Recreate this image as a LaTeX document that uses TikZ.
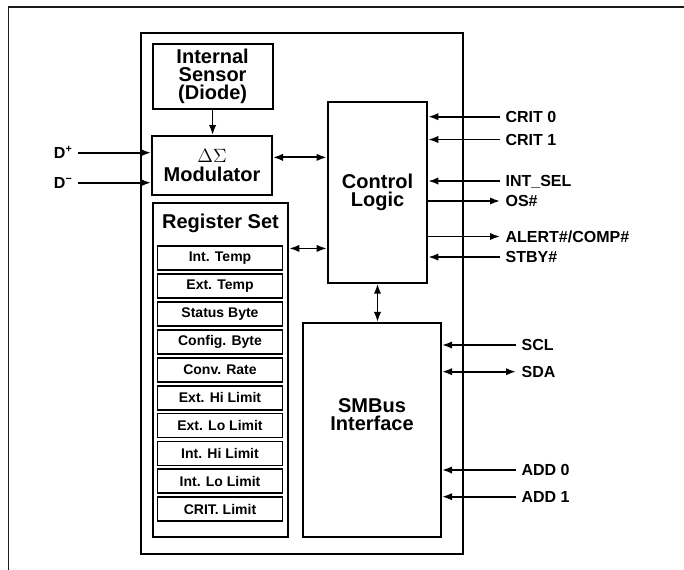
\documentclass[tikz,border=0pt]{standalone}
\usepackage{fontspec}
\setmainfont{Liberation Sans}
\usepackage{xcolor}
\definecolor{linecolor}{HTML}{000000}
\definecolor{framecolor}{HTML}{1a1a1a}
\usetikzlibrary{positioning,arrows.meta,matrix}
\tikzset{
    block/.style={
        rectangle,
        draw=linecolor,
        line width=1.5pt,
        align=center,
        inner sep=0pt,
        font=\fontsize{15}{13.5}\selectfont\bfseries,
    },
    regbox/.style={
        rectangle,
        draw=linecolor,
        line width=1.3pt,
        minimum width=93.75pt,
        minimum height=18pt,
        inner sep=0pt,
        outer sep=0pt,
        font=\fontsize{10.5}{10.5}\selectfont\bfseries,
    },
    pinlabel/.style={
        font=\fontsize{12}{12}\selectfont\bfseries,
        text height=8.6pt,
        text depth=0pt,
        inner sep=4pt,
    },
    wire/.style={
        line width=1.3pt,
        linecolor,
    },
    inwire/.style={
        wire,
        -{Latex[length=7.5pt,width=5.5pt]},
    },
    outwire/.style={
        wire,
        -{Latex[length=7.5pt,width=5.5pt]},
    },
    biwire/.style={
        wire,
        {Latex[length=7.5pt,width=5.5pt]}-{Latex[length=7.5pt,width=5.5pt]},
    },
}

\begin{document}
\begin{tikzpicture}[x=0.75pt,y=-0.75pt]
    \clip (0,0) rectangle (684,569);
    \draw[line width=0.9pt, framecolor] (8.5,7) rectangle (720,600);

    % chip and its blocks
    \node[block, minimum width=242pt, minimum height=390.75pt] (chip) at (302,293.5) {};
    \node[block, minimum width=90pt, minimum height=48.75pt] (sensor) at (212.6,76.7) {Internal\\Sensor\\(Diode)};
    \node[block, minimum width=90pt, minimum height=44.6pt] (mod) at (212,165.75) {$\Delta\Sigma$\\[0.6pt]Modulator};
    \node[block, minimum width=74.7pt, minimum height=135.3pt] (ctrl) at (377.5,192.5) {Control\\Logic};
    \node[block, minimum width=103.5pt, minimum height=160.3pt] (smbus) at (372,429.85) {SMBus\\Interface\\[9pt]};
    \node[block, minimum width=101.7pt, minimum height=250.5pt] (regset) at (220.5,369.6) {};
    \node[below=9pt of regset.north, inner sep=0pt, font=\fontsize{15}{15}\selectfont\bfseries] (regtitle) {Register Set};
    \matrix[matrix of nodes, nodes={regbox}, row sep=1.6pt, inner sep=0pt, anchor=north] (regs) at (220,245.2) {
        Int. Temp \\
        Ext. Temp \\
        Status Byte \\
        Config. Byte \\
        Conv. Rate \\
        Ext. Hi Limit \\
        Ext. Lo Limit \\
        Int. Hi Limit \\
        Int. Lo Limit \\
        CRIT. Limit \\
    };

    % internal connections
    \draw[inwire] (sensor.south) -- (sensor.south |- mod.north);
    \draw[biwire] ([yshift=6.3pt]mod.east) -- ([yshift=6.3pt]mod.east -| ctrl.west);
    \draw[biwire] ([yshift=-35.1pt]regset.north east) -- ([yshift=-35.1pt]regset.north east -| ctrl.west);
    \draw[biwire] (ctrl.south) -- (ctrl.south |- smbus.north);

    % pins
    \node[pinlabel, anchor=east] (dplus) at (78,152.7) {D\textsuperscript{+}};
    \node[pinlabel, anchor=east] (dminus) at (78,182.7) {D\textsuperscript{−}};
    \node[pinlabel, anchor=west] (critzero) at (500,116.7) {CRIT 0};
    \node[pinlabel, anchor=west] (critone) at (500,139.5) {CRIT 1};
    \node[pinlabel, anchor=west] (intsel) at (500,181) {INT\_SEL};
    \node[pinlabel, anchor=west] (os) at (500,201) {OS\#};
    \node[pinlabel, anchor=west] (alert) at (500,236.5) {ALERT\#/COMP\#};
    \node[pinlabel, anchor=west] (stby) at (500,257) {STBY\#};
    \node[pinlabel, anchor=west] (scl) at (516,345) {SCL};
    \node[pinlabel, anchor=west] (sda) at (516,371.7) {SDA};
    \node[pinlabel, anchor=west] (addzero) at (516,470) {ADD 0};
    \node[pinlabel, anchor=west] (addone) at (516,496.7) {ADD 1};

    \draw[inwire] (dplus.east) -- (dplus.east -| mod.west);
    \draw[inwire] (dminus.east) -- (dminus.east -| mod.west);
    \draw[inwire] (critzero.west) -- (critzero.west -| ctrl.east);
    \draw[inwire] (critone.west) -- (critone.west -| ctrl.east);
    \draw[inwire] (intsel.west) -- (intsel.west -| ctrl.east);
    \draw[outwire] (os.west -| ctrl.east) -- (os.west);
    \draw[outwire] (alert.west -| ctrl.east) -- (alert.west);
    \draw[inwire] (stby.west) -- (stby.west -| ctrl.east);
    \draw[inwire] (scl.west) -- (scl.west -| smbus.east);
    \draw[biwire] (sda.west) -- (sda.west -| smbus.east);
    \draw[inwire] (addzero.west) -- (addzero.west -| smbus.east);
    \draw[inwire] (addone.west) -- (addone.west -| smbus.east);
\end{tikzpicture}
\end{document}
